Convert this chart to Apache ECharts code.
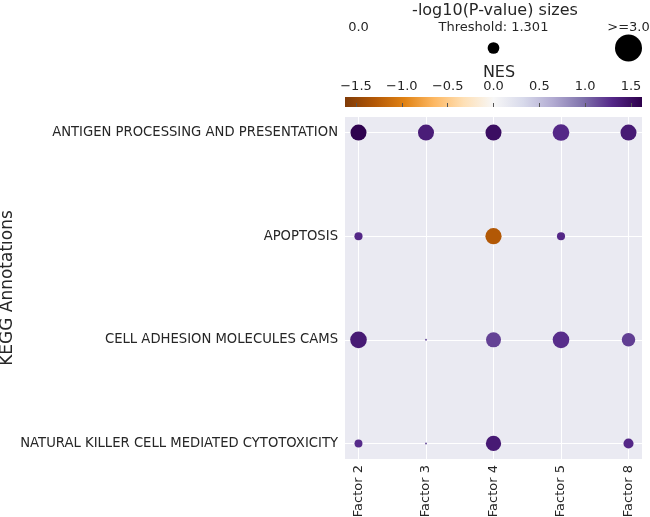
<!DOCTYPE html>
<html>
<head>
<meta charset="utf-8">
<script src="https://cdn.jsdelivr.net/npm/echarts@6/dist/echarts.min.js"></script>
<style>html,body{margin:0;padding:0;background:#fff;}#c{width:650px;height:517px;}</style>
</head>
<body>
<div id="c"></div>
<script>
// ---- data ----
const factors = ['Factor 2', 'Factor 3', 'Factor 4', 'Factor 5', 'Factor 8'];
const pathways = [
  'ANTIGEN PROCESSING AND PRESENTATION',
  'APOPTOSIS',
  'CELL ADHESION MOLECULES CAMS',
  'NATURAL KILLER CELL MEDIATED CYTOTOXICITY'
];
// NES and -log10(p) per pathway, by factor
const antigenNES   = [1.60, 1.38, 1.50, 1.30, 1.40];
const antigenLogP  = [1.78, 1.78, 1.78, 1.85, 1.78];
const apoptosisF   = [0, 2, 3];
const apoptosisNES = [1.30, -1.30, 1.30];
const apoptosisLogP= [0.90, 1.80, 0.90];
const camsNES      = [1.40, 1.10, 1.18, 1.27, 1.20];
const camsLogP     = [1.85, 0.22, 1.67, 1.85, 1.50];
const nkF          = [0, 1, 2, 4];
const nkNES        = [1.28, 1.10, 1.40, 1.30];
const nkLogP       = [0.88, 0.22, 1.70, 1.12];
const sizeLegendVals   = [0.0, 1.301, 3.0];
const sizeLegendLabels = ['0.0', 'Threshold: 1.301', '>=3.0'];
const nesTicks = [-1.5, -1.0, -0.5, 0.0, 0.5, 1.0, 1.5];
const nesMin = -1.62, nesMax = 1.62;

const puor = ['#7f3b08','#b35806','#e08214','#fdb863','#fee0b6','#f7f7f7','#d8daeb','#b2abd2','#8073ac','#542788','#2d004b'];

const points = [];
antigenNES.forEach((v, i) => points.push([i, 0, v, antigenLogP[i]]));
apoptosisF.forEach((f, i) => points.push([f, 1, apoptosisNES[i], apoptosisLogP[i]]));
camsNES.forEach((v, i) => points.push([i, 2, v, camsLogP[i]]));
nkF.forEach((f, i) => points.push([f, 3, nkNES[i], nkLogP[i]]));

const sizeFn = v => 9 * Math.min(v, 3);
const FONT = 'DejaVu Sans';
const minus = s => s.replace('-', '\u2212');

const GL = 345, GW = 297;

const chart = echarts.init(document.getElementById('c'), null, {renderer: 'canvas'});
chart.setOption({
  animation: false,
  backgroundColor: '#ffffff',
  textStyle: {fontFamily: FONT},
  title: [
    {text: '-log10(P-value) sizes', left: 490, top: -2, textAlign: 'center',
     textStyle: {fontFamily: FONT, fontSize: 16, fontWeight: 'normal', color: '#262626'}},
    {text: 'NES', left: 494, top: 60, textAlign: 'center',
     textStyle: {fontFamily: FONT, fontSize: 16, fontWeight: 'normal', color: '#262626'}}
  ],
  grid: [
    {left: GL, width: GW, top: 117, height: 342, show: true, backgroundColor: '#eaeaf2', borderWidth: 0, outerBoundsMode: 'none', containLabel: false},
    {left: GL, width: GW, top: 97, height: 10, show: false, outerBoundsMode: 'none', containLabel: false},
    {left: GL, width: GW, top: 20, height: 40, show: false, outerBoundsMode: 'none', containLabel: false}
  ],
  xAxis: [
    {gridIndex: 0, type: 'value', min: -0.2, max: 4.2,
     axisLine: {show: false},
     axisTick: {show: true, customValues: [0,1,2,3,4], length: 4, lineStyle: {color: '#b0b0b0'}},
     axisLabel: {customValues: [0,1,2,3,4], rotate: 90, formatter: v => factors[Math.round(v)] || '',
       fontFamily: FONT, fontSize: 13, color: '#262626', margin: 6},
     splitLine: {show: true, lineStyle: {color: '#ffffff', width: 1}}},
    {gridIndex: 1, type: 'value', min: nesMin, max: nesMax, position: 'top',
     axisLine: {show: false},
     axisTick: {show: true, customValues: nesTicks, length: 4, lineStyle: {color: '#555'}},
     axisLabel: {customValues: nesTicks, formatter: v => minus(v.toFixed(1)),
       fontFamily: FONT, fontSize: 13, color: '#262626', margin: 4},
     splitLine: {show: false}},
    {gridIndex: 2, type: 'value', min: -0.2, max: 4.2, show: false}
  ],
  yAxis: [
    {gridIndex: 0, type: 'value', min: -0.15, max: 3.15, inverse: true,
     axisLine: {show: false},
     axisTick: {show: true, customValues: [0,1,2,3], length: 4, lineStyle: {color: '#b0b0b0'}},
     axisLabel: {customValues: [0,1,2,3], formatter: v => pathways[Math.round(v)] || '',
       fontFamily: FONT, fontSize: 13.2, color: '#262626', margin: 7},
     splitLine: {show: true, lineStyle: {color: '#ffffff', width: 1}},
     name: 'KEGG Annotations', nameLocation: 'middle', nameGap: 329, nameRotate: 90,
     nameTextStyle: {fontFamily: FONT, fontSize: 17, color: '#262626'}},
    {gridIndex: 1, type: 'value', min: 0, max: 1, show: false},
    {gridIndex: 2, type: 'value', min: 0, max: 1, show: false}
  ],
  visualMap: [{
    show: false, type: 'continuous', min: nesMin, max: nesMax, dimension: 2, seriesIndex: 0,
    inRange: {color: puor}
  }],
  graphic: [{
    type: 'rect', left: GL, top: 97, shape: {width: GW, height: 10}, silent: true,
    style: {fill: new echarts.graphic.LinearGradient(0, 0, 1, 0,
      puor.map((c, i) => ({offset: i / (puor.length - 1), color: c})))}
  }],
  series: [
    {type: 'scatter', xAxisIndex: 0, yAxisIndex: 0, data: points,
     symbolSize: d => sizeFn(d[3]), itemStyle: {opacity: 1}},
    {type: 'scatter', xAxisIndex: 2, yAxisIndex: 2,
     data: sizeLegendVals.map((v, i) => [i * 2, 0.3, v]),
     symbolSize: d => sizeFn(d[2]), itemStyle: {color: '#000000', opacity: 1},
     label: {show: true, position: 'inside', offset: [0, -20],
       formatter: p => sizeLegendLabels[p.dataIndex],
       fontFamily: FONT, fontSize: 13, color: '#262626'}}
  ]
});
</script>
</body>
</html>
